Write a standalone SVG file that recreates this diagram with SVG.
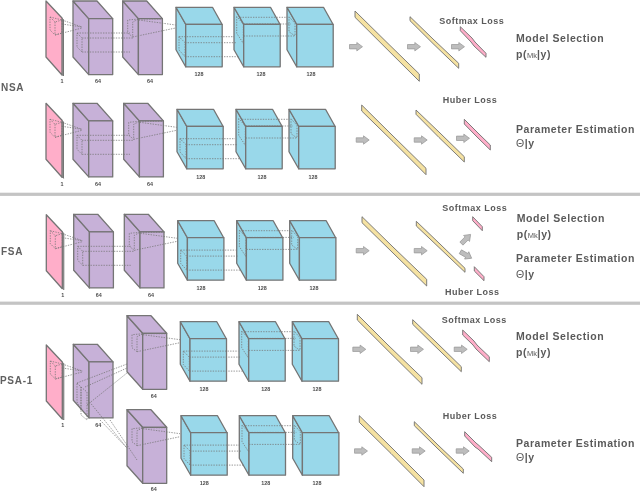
<svg xmlns="http://www.w3.org/2000/svg" width="640" height="492" viewBox="0 0 640 492">
<style>
.e{stroke:#747474;stroke-width:1.3;stroke-linejoin:round}
.pu{fill:#c7b1d8}.cy{fill:#99d8ea}.pk{fill:#ffaec9}.ye{fill:#f5e2a2}
.rb{stroke:#6f6f6f;stroke-width:.9;stroke-linejoin:round}
.sd{fill:#a8a8a8;stroke:#747474;stroke-width:1}
.ar{fill:#bdbdbd;stroke:#969696;stroke-width:.7}
.dot{fill:none;stroke:#767676;stroke-width:.75;stroke-dasharray:1.4 1.2}
text{font-family:"Liberation Sans",Arial,sans-serif;fill:#5a5a5a;font-weight:bold}
.n{font-size:5.4px;text-anchor:middle;fill:#4c4c4c}
.g{font-size:10px;letter-spacing:.7px;fill:#606060}
.l{font-size:9px;letter-spacing:.5px}
.t{font-size:10.5px;letter-spacing:.55px}
.s{font-size:7.5px;font-weight:normal;letter-spacing:0}
.r{font-weight:normal}
</style>
<defs>
<filter id="soft" filterUnits="userSpaceOnUse" x="0" y="0" width="640" height="492"><feGaussianBlur stdDeviation="0.35"/></filter>
<g id="pb"><path class="e pu" d="M0 0L15.7 17.6V73.6L0 56Z"/><path class="e pu" d="M0 0H24L39.7 17.6H15.7Z"/><rect class="e pu" x="15.7" y="17.6" width="24" height="56"/></g>
<g id="cb"><path class="e cy" d="M0 0L9.7 17V59.5L0 42.5Z"/><path class="e cy" d="M0 0H36.5L46 17H9.7Z"/><rect class="e cy" x="9.7" y="17" width="36.5" height="42.5"/></g>
<g id="pp"><path class="sd" d="M15.5 17L17.5 18.5V75L15.5 73Z"/><path class="e pk" d="M0 0L16 17V74L0 56Z"/></g>
<polygon id="ar" class="ar" points="-6.5,-2.2 .8,-2.2 .8,-4.2 6.5,0 .8,4.2 .8,2.2 -6.5,2.2"/>
<path id="d1" class="dot" d="M4 16L16 19V32L9 34L4 29ZM9 21V34M4 16L9 21L16 19M16 19L36 26M16 23L36 26M9 34L36 27"/>
<path id="d2" class="dot" d="M4 32L9 37V51L4 46ZM4 32H57M9 37H60M9 51H57"/>
<path id="d3" class="dot" d="M5 19V32L10 36V21L16 18L5 19M16 18H40M16 19L53 24M10 36L53 27"/>
<path id="d4" class="dot" d="M3 29.4V42.7L9 49.4V35.4ZM3 29.4H58M9 35.4H60M9 49.4H63"/>
<path id="d5" class="dot" d="M2.7 9.3V26L9.3 36V16.7ZM6 10H53M9.7 16.7H57M9.7 28.7H60M55 9.4V24.4L61 28.7V16Z"/>
</defs>
<rect width="640" height="492" fill="#fff"/>
<g filter="url(#soft)">
<rect id="bar1" x="0" y="192.7" width="640" height="3.2" fill="#c4c4c4"/>
<rect id="bar2" x="0" y="301.6" width="640" height="3.2" fill="#c4c4c4"/>

<g id="nsa-a">
<g id="a-in"><use href="#pp" x="46" y="1"/><text class="n" x="62" y="83">1</text></g>
<g id="a-p1"><use href="#pb" x="73" y="1"/><text class="n" x="98" y="83">64</text></g>
<g id="a-p2"><use href="#pb" x="122.7" y="1"/><text class="n" x="150" y="83">64</text></g>
<g id="a-c1"><use href="#cb" x="176" y="7.3"/><text class="n" x="199" y="76">128</text></g>
<g id="a-c2"><use href="#cb" x="234" y="7.3"/><text class="n" x="261" y="76">128</text></g>
<g id="a-c3"><use href="#cb" x="287" y="7.3"/><text class="n" x="311" y="76">128</text></g>
<g id="a-f1"><polygon class="rb ye" points="355,11 387,42.5 419.3,74 419.3,81.3 386,48.2 355,17.3"/></g>
<g id="a-f2"><polygon class="rb ye" points="410,16.7 433,39 458.7,63.3 458.7,68.3 433,43.6 410,20.7"/></g>
<g id="a-o"><polygon class="rb pk" points="460.3,26.7 472,38 475,42 486,53.3 486,57.3 474,46 471,42 460.3,30.7"/><text class="l" x="439.3" y="24.2">Softmax Loss</text></g>
</g>

<g id="nsa-b">
<g id="b-in"><use href="#pp" x="46" y="103.3"/><text class="n" x="62" y="186">1</text></g>
<g id="b-p1"><use href="#pb" x="73" y="103.3"/><text class="n" x="98" y="186">64</text></g>
<g id="b-p2"><use href="#pb" x="123.7" y="103.3"/><text class="n" x="150" y="186">64</text></g>
<g id="b-c1"><use href="#cb" x="177" y="109.3"/><text class="n" x="200.7" y="179">128</text></g>
<g id="b-c2"><use href="#cb" x="236" y="109.3"/><text class="n" x="262" y="179">128</text></g>
<g id="b-c3"><use href="#cb" x="289" y="109.3"/><text class="n" x="313" y="179">128</text></g>
<g id="b-f1"><polygon class="rb ye" points="361.7,105 392,135 426,168.3 426,174.7 393,141.6 361.7,111"/></g>
<g id="b-f2"><polygon class="rb ye" points="416,110 440,133 464.3,156.7 464.3,162 439,137.5 416,114.3"/></g>
<g id="b-o"><polygon class="rb pk" points="464.3,119.3 476,131 479,134 490.3,145 490.3,150 478,138 475,135 464.3,124"/><text class="l" x="442.7" y="103.2">Huber Loss</text></g>
</g>

<g id="fsa">
<g id="f-in"><use href="#pp" x="46.3" y="214.7"/><text class="n" x="62.7" y="297">1</text></g>
<g id="f-p1"><use href="#pb" x="73.7" y="214.3"/><text class="n" x="98.7" y="297">64</text></g>
<g id="f-p2"><use href="#pb" x="124.3" y="214.3"/><text class="n" x="151" y="297">64</text></g>
<g id="f-c1"><use href="#cb" x="177.7" y="220.7"/><text class="n" x="201" y="289.7">128</text></g>
<g id="f-c2"><use href="#cb" x="236.7" y="220.7"/><text class="n" x="262.3" y="289.7">128</text></g>
<g id="f-c3"><use href="#cb" x="289.7" y="220.7"/><text class="n" x="314" y="289.7">128</text></g>
<g id="f-f1"><polygon class="rb ye" points="362,216.7 393,247 426.7,279.3 426.7,286 393,253 362,222.7"/></g>
<g id="f-f2"><polygon class="rb ye" points="416.3,221.3 440,244 465,268.3 465,272.3 439,247.5 416.3,226"/></g>
<g id="f-o1"><polygon class="rb pk" points="472.7,216.7 482.3,226.7 482.3,230.7 472.7,220.7"/><text class="l" x="442.3" y="211.2">Softmax Loss</text></g>
<g id="f-o2"><polygon class="rb pk" points="474.3,266.7 484,276.7 484,280.7 474.3,271"/><text class="l" x="445" y="295.2">Huber Loss</text></g>
</g>

<g id="psa">
<g id="s-in"><use href="#pp" x="46.3" y="345"/><text class="n" x="62.7" y="427.3">1</text></g>
<g id="s-p1"><use href="#pb" x="73.3" y="344.3"/><text class="n" x="98.3" y="427.3">64</text></g>
<g id="s-p2"><use href="#pb" x="127" y="315.7"/><text class="n" x="153.7" y="398">64</text></g>
<g id="s-c1"><use href="#cb" x="180.3" y="321.7"/><text class="n" x="204" y="391.3">128</text></g>
<g id="s-c2"><use href="#cb" x="239" y="321.7"/><text class="n" x="265.7" y="391.3">128</text></g>
<g id="s-c3"><use href="#cb" x="292.3" y="321.7"/><text class="n" x="317" y="391.3">128</text></g>
<g id="s-f1"><polygon class="rb ye" points="357.3,314.3 388,345 422,377.7 422,384.3 388,350.7 357.3,320"/></g>
<g id="s-f2"><polygon class="rb ye" points="412.7,319.7 436,342 461.3,366.7 461.3,371.7 435,346.2 412.7,324.3"/></g>
<g id="s-o"><polygon class="rb pk" points="462.7,330 474,341 477,345 489.3,356.7 489.3,361.7 476,349 473,345 462.7,335"/><text class="l" x="441.7" y="322.9">Softmax Loss</text></g>
<g id="s-p3"><use href="#pb" x="127" y="409.7"/><text class="n" x="153.7" y="491">64</text></g>
<g id="s-c4"><use href="#cb" x="181" y="415.7"/><text class="n" x="204.3" y="485">128</text></g>
<g id="s-c5"><use href="#cb" x="239.3" y="415.7"/><text class="n" x="265.7" y="485">128</text></g>
<g id="s-c6"><use href="#cb" x="292.7" y="415.7"/><text class="n" x="317" y="485">128</text></g>
<g id="s-f3"><polygon class="rb ye" points="359.3,415.7 391,447 424,480 424,486.7 391,453.5 359.3,422.3"/></g>
<g id="s-f4"><polygon class="rb ye" points="414.3,421.7 438,445 463.3,469 463.3,473.3 437,448 414.3,425.7"/></g>
<g id="s-o2"><polygon class="rb pk" points="464.7,431.7 476,443 479,445.5 491.7,457.3 491.7,461.7 478,449 475,447 464.7,436"/><text class="l" x="442.7" y="419.2">Huber Loss</text></g>
</g>

<g id="connectors">
<use href="#d1" x="46" y="1"/><use href="#d2" x="73" y="1"/><use href="#d3" x="122.7" y="1"/><use href="#d4" x="176" y="7.3"/><use href="#d5" x="234" y="7.3"/>
<use href="#d1" x="46" y="103.3"/><use href="#d2" x="73" y="103.3"/><use href="#d3" x="123.7" y="103.3"/><use href="#d4" x="177" y="109.3"/><use href="#d5" x="236" y="109.3"/>
<use href="#d1" x="46.3" y="214.7"/><use href="#d2" x="73.7" y="214.3"/><use href="#d3" x="124.3" y="214.3"/><use href="#d4" x="177.7" y="220.7"/><use href="#d5" x="236.7" y="220.7"/>
<use href="#d1" x="46.3" y="345"/>
<path class="dot" d="M77 383L81 387V410L77 402ZM81 387V415L87 420V392ZM77 383L127 364M85 387L127 368M87 405L127 373M88 400L127 448M100 420L127 448M110 420L137 460"/>
<use href="#d3" x="127" y="315.7"/><use href="#d3" x="127" y="409.7"/>
<use href="#d4" x="180.3" y="321.7"/><use href="#d5" x="239" y="321.7"/>
<use href="#d4" x="181" y="415.7"/><use href="#d5" x="239.3" y="415.7"/>
<use href="#ar" x="356" y="46.7"/><use href="#ar" x="414" y="46.7"/><use href="#ar" x="458" y="46.7"/>
<use href="#ar" x="362.7" y="140"/><use href="#ar" x="420.7" y="140"/><use href="#ar" x="463" y="138.3"/>
<use href="#ar" x="362.7" y="250.7"/><use href="#ar" x="420.7" y="250.7"/>
<use href="#ar" transform="translate(466 239) rotate(-45)"/><use href="#ar" transform="translate(466 255) rotate(30)"/>
<use href="#ar" x="359.3" y="349.3"/><use href="#ar" x="417" y="349.3"/><use href="#ar" x="460.7" y="349.3"/>
<use href="#ar" x="361" y="451"/><use href="#ar" x="418.7" y="451"/><use href="#ar" x="462.7" y="451"/>
</g>

<g id="labels">
<text class="g" x="1" y="90.7">NSA</text>
<text class="g" x="1" y="254.6">FSA</text>
<text class="g" x="0" y="383.6">PSA-1</text>
<text class="t" x="516" y="41.5">Model Selection</text>
<text class="t" x="516" y="57.8">p(<tspan class="s">Mk</tspan>|y)</text>
<text class="t" x="516" y="133.1">Parameter Estimation</text>
<text class="t" x="516" y="147.1"><tspan class="r">Θ</tspan>|y</text>
<text class="t" x="516.7" y="221.5">Model Selection</text>
<text class="t" x="516.7" y="237.8">p(<tspan class="s">Mk</tspan>|y)</text>
<text class="t" x="516" y="262.1">Parameter Estimation</text>
<text class="t" x="516" y="278.1"><tspan class="r">Θ</tspan>|y</text>
<text class="t" x="516" y="339.8">Model Selection</text>
<text class="t" x="516" y="356.1">p(<tspan class="s">Mk</tspan>|y)</text>
<text class="t" x="516" y="446.5">Parameter Estimation</text>
<text class="t" x="516" y="461.1"><tspan class="r">Θ</tspan>|y</text>
</g>
</g>
</svg>
